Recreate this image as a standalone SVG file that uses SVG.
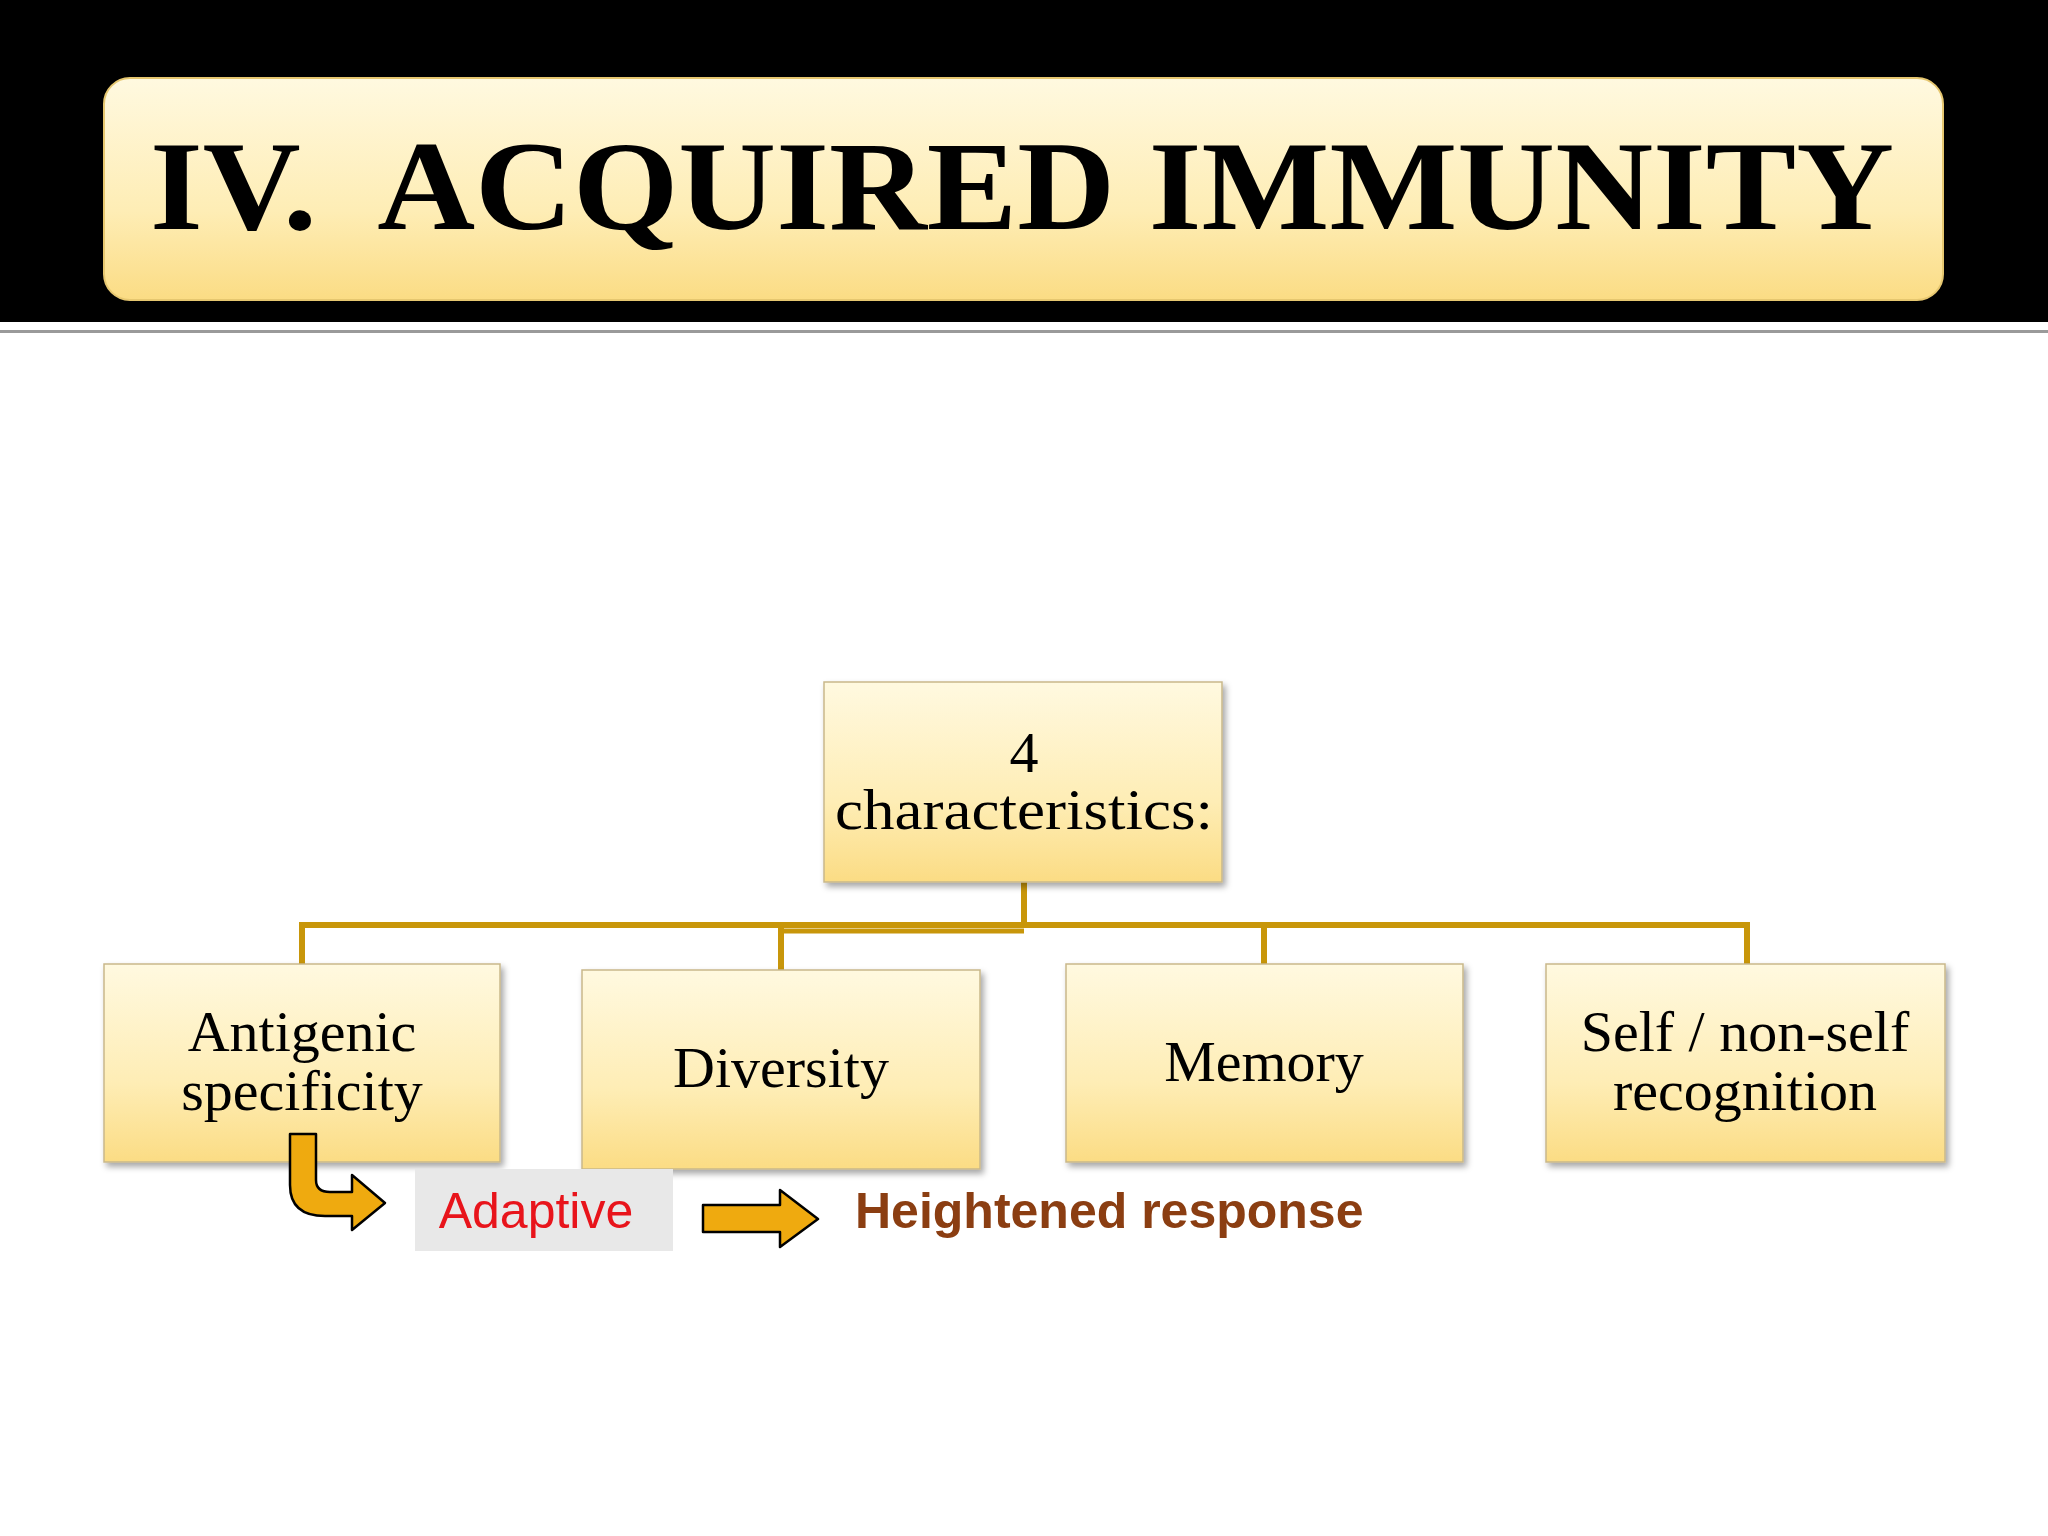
<svg xmlns="http://www.w3.org/2000/svg" width="2048" height="1536" viewBox="0 0 2048 1536">
<defs>
<linearGradient id="g" x1="0" y1="0" x2="0" y2="1"><stop offset="0" stop-color="#FFF9E0"/><stop offset="0.6" stop-color="#FEEDB5"/><stop offset="1" stop-color="#FBDC84"/></linearGradient>
<filter id="s" x="-5%" y="-5%" width="115%" height="115%"><feDropShadow dx="3" dy="4" stdDeviation="3" flood-opacity="0.35"/></filter>
</defs>
<style>
.box{fill:url(#g);stroke:#C9B88A;stroke-width:1.5;filter:url(#s)}
.t{font-family:"Liberation Serif",serif;font-size:58px;fill:#000;text-anchor:middle}
.c{stroke:#C8960A;stroke-width:6;fill:none}
.ar{fill:#EFAA0F;stroke:#000;stroke-width:2.5;stroke-linejoin:round}
</style>
<rect width="2048" height="1536" fill="#fff"/>
<rect width="2048" height="322" fill="#000"/>
<rect x="0" y="330" width="2048" height="3" fill="#9a9a9a"/>
<g id="title">
<rect x="104" y="78" width="1839" height="222" rx="26" fill="url(#g)" stroke="#E6C770" stroke-width="2"/>
<text x="150" y="229" textLength="1744" lengthAdjust="spacingAndGlyphs" font-family="Liberation Serif,serif" font-weight="bold" font-size="128" xml:space="preserve">IV.  ACQUIRED IMMUNITY</text>
</g>
<g id="connectors">
<path class="c" d="M1024,882 V925 M302,964 V925 H1747 V964 M781,970 V925 M1264,964 V925"/>
<path d="M781,931 H1024" stroke="#C8960A" stroke-width="5"/>
</g>
<g id="root"><rect class="box" x="824" y="682" width="398" height="200"/>
<text class="t" x="1024" y="772">4</text><text class="t" x="1024" y="829" textLength="378" lengthAdjust="spacingAndGlyphs">characteristics:</text></g>
<g id="n1"><rect class="box" x="104" y="964" width="396" height="198"/>
<text class="t" x="302" y="1051">Antigenic</text><text class="t" x="302" y="1110">specificity</text></g>
<g id="n2"><rect class="box" x="582" y="970" width="398" height="199"/>
<text class="t" x="781" y="1087">Diversity</text></g>
<g id="n3"><rect class="box" x="1066" y="964" width="397" height="198"/>
<text class="t" x="1264" y="1081">Memory</text></g>
<g id="n4"><rect class="box" x="1546" y="964" width="399" height="198"/>
<text class="t" x="1745" y="1051">Self / non-self</text><text class="t" x="1745" y="1110">recognition</text></g>
<g id="bent-arrow"><path class="ar" d="M290,1134 L316,1134 L316,1180 Q316,1192 330,1192 L352,1192 L352,1175 L385,1203 L352,1230 L352,1216 L325,1216 Q290,1216 290,1185 Z"/></g>
<g id="adaptive"><rect x="415" y="1169" width="258" height="82" fill="#E8E8E8"/>
<text x="536" y="1228" font-family="Liberation Sans,sans-serif" font-size="50" fill="#E8141B" text-anchor="middle">Adaptive</text></g>
<g id="right-arrow"><path class="ar" d="M703,1205 H780 V1190 L818,1219 L780,1247 V1232 H703 Z"/></g>
<g id="heightened"><text x="855" y="1228" font-family="Liberation Sans,sans-serif" font-weight="bold" font-size="50" fill="#8B3E12">Heightened response</text></g>
</svg>
